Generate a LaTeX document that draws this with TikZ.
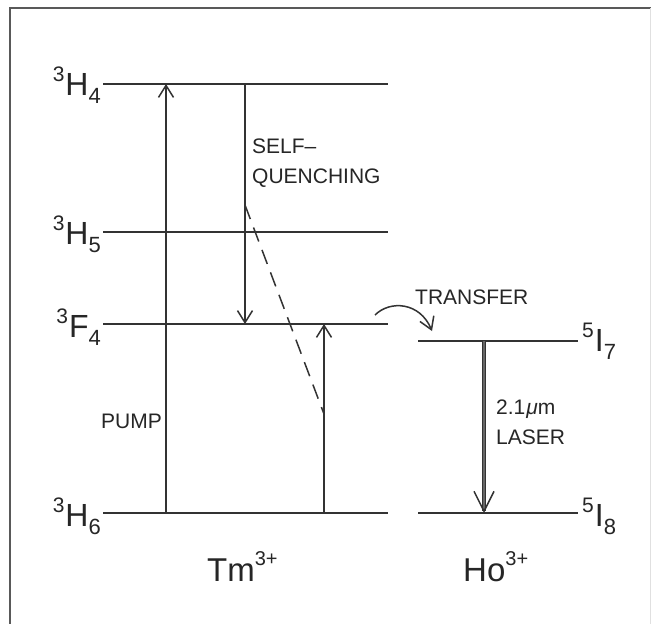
\documentclass[tikz,border=0pt]{standalone}
\usepackage{fontspec}
\setmainfont{Liberation Sans}
\usetikzlibrary{arrows.meta}
\newcommand{\lvllabel}[3]{\raisebox{14pt}{\fontsize{21}{21}\selectfont #1}\kern1pt{\fontsize{32}{32}\selectfont #2}\raisebox{-8pt}{\fontsize{22}{22}\selectfont #3}}
\newcommand{\ionlabel}[1]{{\fontsize{33}{33}\selectfont #1}\raisebox{16pt}{\fontsize{20}{20}\selectfont 3+}}
\begin{document}
\begin{tikzpicture}[x=1pt,y=-1pt,
  lvl/.style={draw=black!80,line width=1.5pt},
  trans/.style={draw=black!80,line width=1.5pt,-{Straight Barb[length=12pt,width=15pt,line width=1.5pt]}},
  laser/.style={draw=black!80,line width=1.5pt,double=black!60,double distance=1.3pt,-{Straight Barb[length=20pt,width=20pt,line width=1.5pt]}},
  lbl/.style={inner sep=0pt,font=\fontsize{21}{21}\selectfont,text=black!85},
  lvltxt/.style={inner sep=0pt,text=black!85}]
\useasboundingbox (0,0) rectangle (651,624);
\fill[white] (0,0) rectangle (651,624);
% frame
\draw[black!65,line width=1.5pt] (10,624) -- (10,8) -- (651,8);
\draw[black!12,line width=1pt] (650,8) -- (650,624);
% Tm levels
\coordinate (H4l) at (103,84);  \coordinate (H4r) at (388,84);
\coordinate (H5l) at (103,232); \coordinate (H5r) at (388,232);
\coordinate (F4l) at (103,324); \coordinate (F4r) at (388,324);
\coordinate (H6l) at (103,513); \coordinate (H6r) at (388,513);
% Ho levels
\coordinate (I7l) at (418,341); \coordinate (I7r) at (578,341);
\coordinate (I8l) at (418,513); \coordinate (I8r) at (578,513);
\draw[lvl] (H4l) -- (H4r);
\draw[lvl] (H5l) -- (H5r);
\draw[lvl] (F4l) -- (F4r);
\draw[lvl] (H6l) -- (H6r);
\draw[lvl] (I7l) -- (I7r);
\draw[lvl] (I8l) -- (I8r);
% level labels
\node[lvltxt,anchor=base east] (lH4) at (101,95) {\lvllabel{3}{H}{4}};
\node[lvltxt,anchor=base east] (lH5) at (101,244) {\lvllabel{3}{H}{5}};
\node[lvltxt,anchor=base east] (lF4) at (101,337) {\lvllabel{3}{F}{4}};
\node[lvltxt,anchor=base east] (lH6) at (101,526) {\lvllabel{3}{H}{6}};
\node[lvltxt,anchor=base west] (lI7) at (582,351) {\lvllabel{5}{I}{7}};
\node[lvltxt,anchor=base west] (lI8) at (582,526) {\lvllabel{5}{I}{8}};
% transitions
\coordinate (pumpb) at (166,513); \coordinate (pumpt) at (166,84);
\coordinate (sqt) at (245,84);    \coordinate (sqb) at (245,324);
\coordinate (upb) at (324,513);   \coordinate (upt) at (324,324);
\coordinate (dash1) at (245,205); \coordinate (dash2) at (324,414);
\coordinate (lst) at (484,341);   \coordinate (lsb) at (484,513);
\coordinate (tr1) at (375,315);   \coordinate (tr2) at (432,331);
\draw[trans] (pumpb) -- (pumpt);
\draw[trans] (sqt) -- (sqb);
\draw[trans] (upb) -- (upt);
\draw[draw=black!80,line width=1.5pt,dash pattern=on 15pt off 9pt] (dash1) -- (dash2);
\draw[laser] (lst) -- (lsb);
\draw[trans] (tr1) .. controls (390,300) and (420,302) .. (tr2);
% text labels
\node[lbl,anchor=base west] (self) at (252,153) {SELF–};
\node[lbl,anchor=base west] (quench) at (252,183) {QUENCHING};
\node[lbl,anchor=base west] (transfer) at (415,304) {TRANSFER};
\node[lbl,anchor=base west] (pump) at (101,428) {PUMP};
\node[lbl,anchor=base west] (wl) at (496,414) {2.1\kern1pt\textit{μ}m};
\node[lbl,anchor=base west] (las) at (496,444) {LASER};
\node[lvltxt,anchor=base west] (tm) at (207,581) {\ionlabel{Tm}};
\node[lvltxt,anchor=base west] (ho) at (463,581) {\ionlabel{Ho}};
\end{tikzpicture}
\end{document}
